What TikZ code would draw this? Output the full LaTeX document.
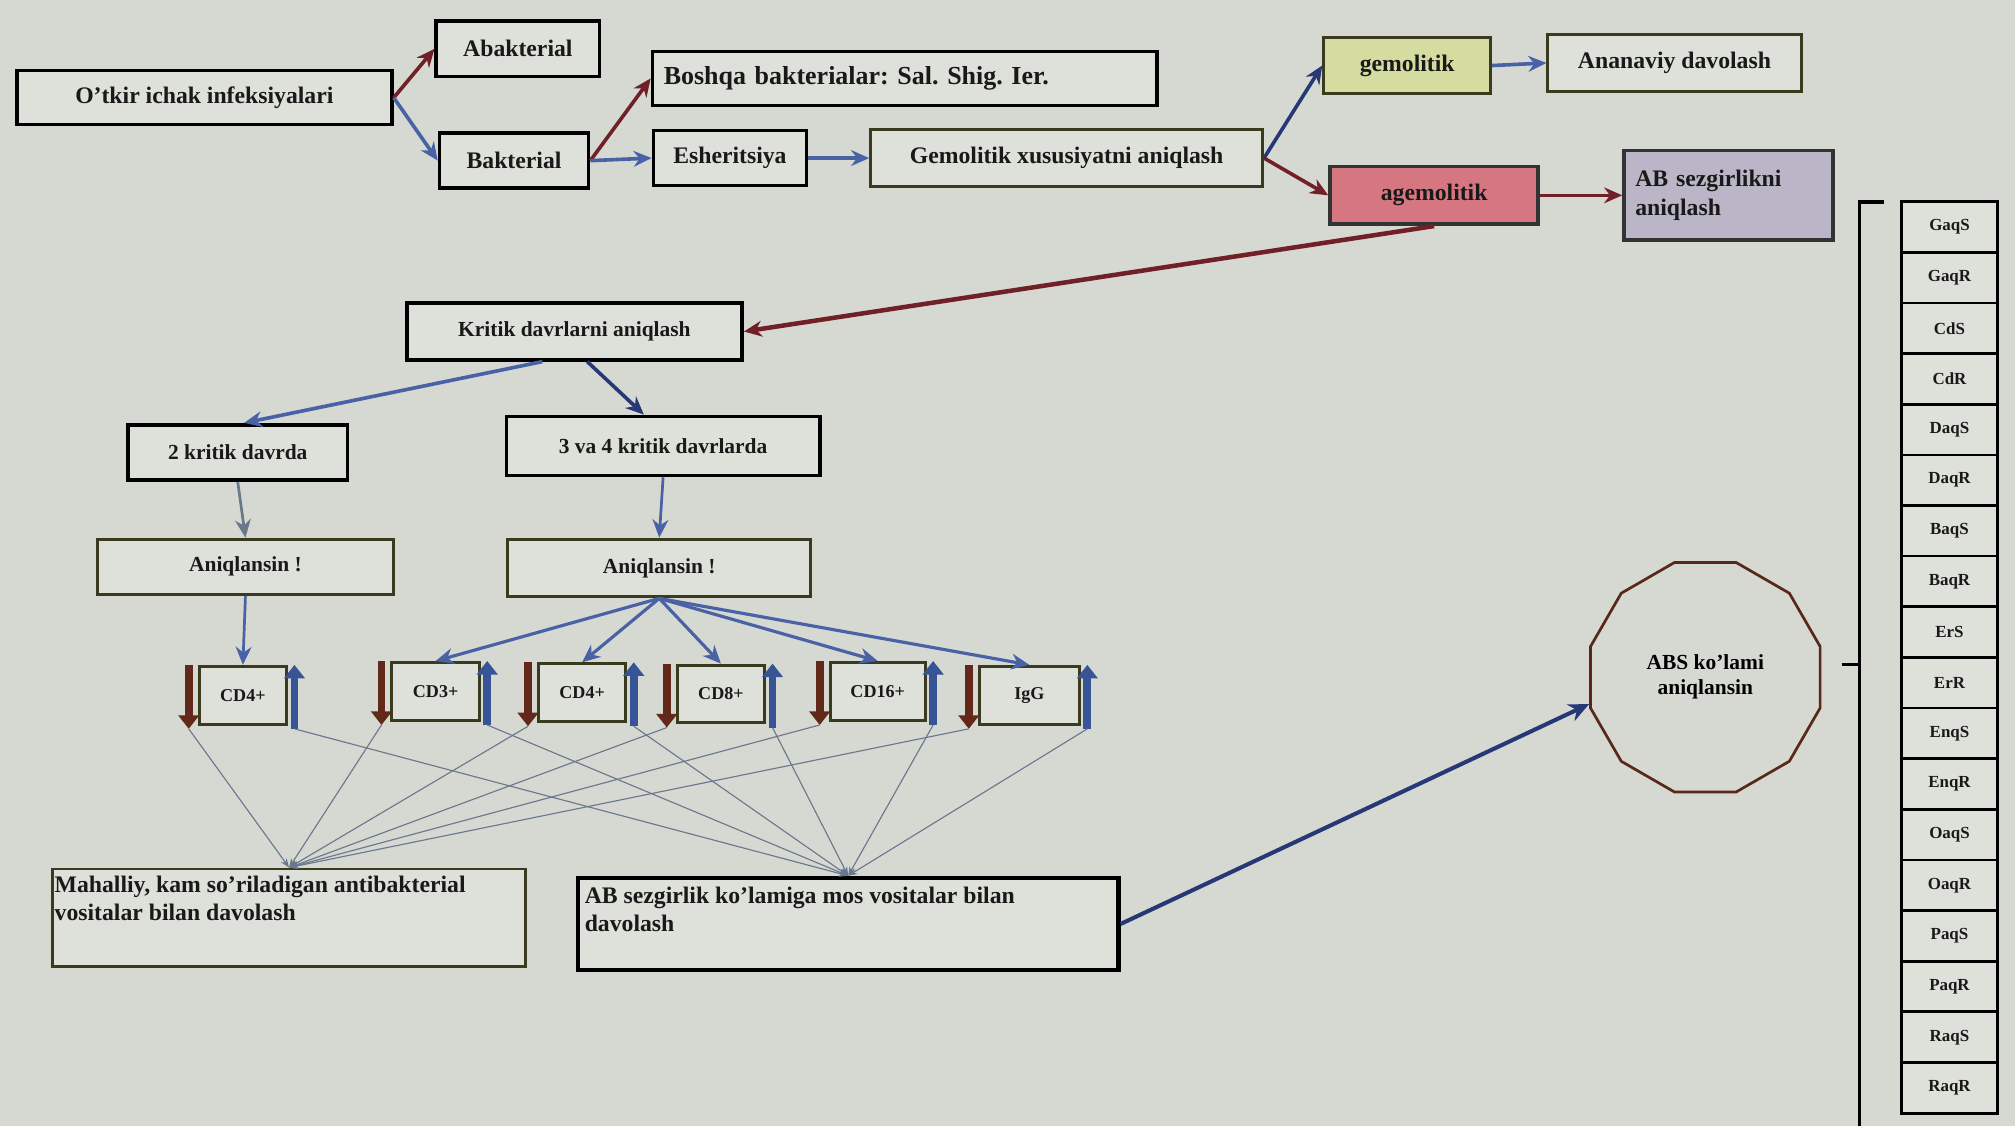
\documentclass[tikz,border=0pt]{standalone}
\usepackage{fontspec}
\setmainfont{Liberation Serif}
\usetikzlibrary{arrows.meta,shapes.geometric}
\frenchspacing

\definecolor{pagebg}{RGB}{214,216,210}
\definecolor{boxbg}{RGB}{222,224,218}
\definecolor{olive}{RGB}{58,58,30}
\definecolor{arrblue}{RGB}{72,98,165}
\definecolor{arrred}{RGB}{112,32,38}
\definecolor{arrnavy}{RGB}{38,56,118}
\definecolor{gemfill}{RGB}{212,220,160}
\definecolor{agemfill}{RGB}{214,118,128}
\definecolor{absfill}{RGB}{186,182,200}
\definecolor{cddown}{RGB}{98,40,25}
\definecolor{cdup}{RGB}{55,85,150}
\definecolor{thinln}{RGB}{105,120,140}
\definecolor{decline}{RGB}{88,40,25}

\tikzset{
  box/.style={draw=black, line width=1.6pt, fill=boxbg, inner sep=2pt,
    font=\fontsize{10.5}{12.5}\selectfont\bfseries, text=black!90},
  obox/.style={box, draw=olive, line width=1.3pt},
  cdbox/.style={obox, minimum height=0.9cm, font=\fontsize{8}{9}\selectfont\bfseries},
  sbox/.style={box, line width=1.2pt, minimum width=1.5cm, minimum height=0.79cm,
    font=\fontsize{7.5}{8}\selectfont\bfseries},
  blarr/.style={-{Stealth[length=8pt,width=7pt]}, line width=1.6pt, arrblue},
  rdarr/.style={-{Stealth[length=8pt,width=7pt]}, line width=1.6pt, arrred},
  thinarr/.style={-{Stealth[length=4pt,width=3pt]}, line width=0.5pt, thinln},
  dnarr/.style={-{Triangle[length=6pt,width=9pt]}, line width=3.5pt, cddown},
  uparr/.style={-{Triangle[length=6pt,width=9pt]}, line width=3.5pt, cdup},
}

\begin{document}
\begin{tikzpicture}[x=0.02cm, y=-0.02cm]

  % -- Page --
  \fill[pagebg] (0,0) rectangle (1568,876);
  \useasboundingbox (0,0) rectangle (1568,876);

  % -- Top row --
  \node[box, minimum width=5.84cm, minimum height=0.84cm] (otkir) at (159,76) {O'tkir ichak infeksiyalari};
  \node[box, minimum width=2.54cm, minimum height=0.86cm] (abakt) at (403,38) {Abakterial};
  \node[box, minimum width=2.32cm, minimum height=0.86cm] (bakt) at (400,125) {Bakterial};
  \node[box, text width=7.5cm, inner xsep=5pt, minimum height=0.84cm, align=left, font=\fontsize{11.5}{13}\selectfont\bfseries] (boshqa) at (704,61) {Boshqa bakterialar: Sal. Shig. Ier.};
  \node[box, minimum width=2.38cm, minimum height=0.86cm] (esher) at (568,123) {Esheritsiya};
  \node[obox, minimum width=6.1cm, minimum height=0.88cm] (gemxus) at (830,123) {Gemolitik xususiyatni aniqlash};
  \node[obox, fill=gemfill, minimum width=2.6cm, minimum height=0.86cm] (gemol) at (1095,51) {gemolitik};
  \node[obox, minimum width=3.94cm, minimum height=0.9cm] (ananav) at (1303,49) {Ananaviy davolash};
  \node[box, draw=black!80, fill=agemfill, minimum width=3.24cm, minimum height=0.9cm] (agemol) at (1116,152) {agemolitik};
  \node[box, draw=black!80, fill=absfill, text width=2.9cm, inner xsep=5pt, minimum height=1.4cm, align=left] (absez) at (1345,152) {AB sezgirlikni\\aniqlash\\[4pt]};

  \draw[rdarr] (otkir.east) -- (abakt.west);
  \draw[blarr] (otkir.east) -- (bakt.west);
  \draw[rdarr] (bakt.east) -- (boshqa.west);
  \draw[blarr] (bakt.east) -- (esher.west);
  \draw[blarr] (esher.east) -- (gemxus.west);
  \draw[blarr, arrnavy] (gemxus.east) -- (gemol.west);
  \draw[rdarr] (gemxus.east) -- (agemol.west);
  \draw[blarr] (gemol.east) -- (ananav.west);
  \draw[rdarr] (agemol.east) -- (absez.west);

  % -- Critical periods --
  \node[box, minimum width=5.22cm, minimum height=0.88cm, font=\fontsize{9.5}{11}\selectfont\bfseries] (kritik) at (447,258) {Kritik davrlarni aniqlash};
  \node[box, minimum width=3.42cm, minimum height=0.86cm, font=\fontsize{9.5}{11}\selectfont\bfseries] (ikki) at (185,352) {2 kritik davrda};
  \node[box, minimum width=4.88cm, minimum height=0.92cm, font=\fontsize{9.5}{11}\selectfont\bfseries] (uchturt) at (516,347) {3 va 4 kritik davrlarda};
  \node[obox, minimum width=4.6cm, minimum height=0.86cm, font=\fontsize{9.5}{11}\selectfont\bfseries] (aniqL) at (191,441) {Aniqlansin !};
  \node[obox, minimum width=4.72cm, minimum height=0.9cm, font=\fontsize{9.5}{11}\selectfont\bfseries] (aniqR) at (513,442) {Aniqlansin !};

  \draw[rdarr, line width=2pt] (agemol.south) -- (kritik.east);
  \draw[blarr] ([xshift=-0.5cm]kritik.south) -- ([xshift=0.1cm]ikki.north);
  \draw[blarr, arrnavy] ([xshift=0.2cm]kritik.south) -- ([xshift=-0.3cm]uchturt.north);
  \draw[blarr, thinln, line width=1.2pt] (ikki.south) -- (aniqL.north);
  \draw[blarr, line width=1.2pt] (uchturt.south) -- (aniqR.north);

  % -- Cell markers --
  \foreach \n/\x/\y/\w/\t in {cdA/189/541/1.36/CD4+, cdB/339/538/1.36/CD3+, cdC/453/539/1.36/CD4+,
      cdD/561/540/1.36/CD8+, cdE/683/538/1.48/CD16+, cdF/801/541/1.56/IgG} {
    \node[cdbox, minimum width=\w cm] (\n) at (\x,\y) {\t};
    \coordinate (\n-dt) at ([xshift=-0.14cm]\n.north west);
    \coordinate (\n-db) at ([xshift=-0.14cm, yshift=-0.05cm]\n.south west);
    \coordinate (\n-ut) at ([xshift=0.1cm]\n.north east);
    \coordinate (\n-ub) at ([xshift=0.1cm, yshift=-0.05cm]\n.south east);
    \draw[dnarr] (\n-dt) -- (\n-db);
    \draw[uparr] (\n-ub) -- (\n-ut);
  }
  \draw[blarr, line width=1.2pt] (aniqL.south) -- (cdA.north);
  \foreach \n in {cdB,cdC,cdD,cdE,cdF}
    \draw[blarr, line width=1.4pt] (aniqR.south) -- (\n.north);

  % -- Treatment --
  \node[obox, inner xsep=1pt, inner ysep=3pt] (mahal) at (225,714) {\parbox[c][1.3cm][t]{7.3cm}{\raggedright Mahalliy, kam so'riladigan antibakterial\\ vositalar bilan davolash}};
  \node[box, line width=2pt, inner xsep=3pt, inner ysep=4pt] (absezg) at (660,719) {\parbox[c][1.15cm][t]{8.2cm}{\raggedright AB sezgirlik ko'lamiga mos vositalar bilan\\ davolash}};

  \foreach \n in {cdA,cdB,cdC,cdD,cdE,cdF} {
    \draw[thinarr] (\n-db) -- (mahal.north);
    \draw[thinarr] (\n-ub) -- (absezg.north);
  }

  % -- Antibiotic spectrum --
  \node[draw=decline, line width=1.2pt, regular polygon, regular polygon sides=12, minimum size=3.7cm,
    inner sep=0pt, align=center, font=\fontsize{9.5}{11}\selectfont\bfseries] (absk) at (1327,527) {ABS ko'lami\\aniqlansin};
  \draw[-{Stealth[length=9pt,width=8pt]}, line width=1.8pt, arrnavy] (absezg.east) -- (absk.193);

  \coordinate (brtop) at (1447,157);
  \coordinate (brmid) at (1447,517);
  \draw[line width=1.6pt] ([xshift=0.38cm]brtop) -- (brtop) -- (1447,880);
  \draw[line width=1.6pt] ([xshift=-0.28cm]brmid) -- (brmid);

  \foreach \t [count=\i from 0] in {GaqS,GaqR,CdS,CdR,DaqS,DaqR,BaqS,BaqR,ErS,ErR,EnqS,EnqR,OaqS,OaqR,PaqS,PaqR,RaqS,RaqR}
    \node[sbox] (ab\i) at (1517,{176.7+39.4*\i}) {\t};

\end{tikzpicture}
\end{document}
